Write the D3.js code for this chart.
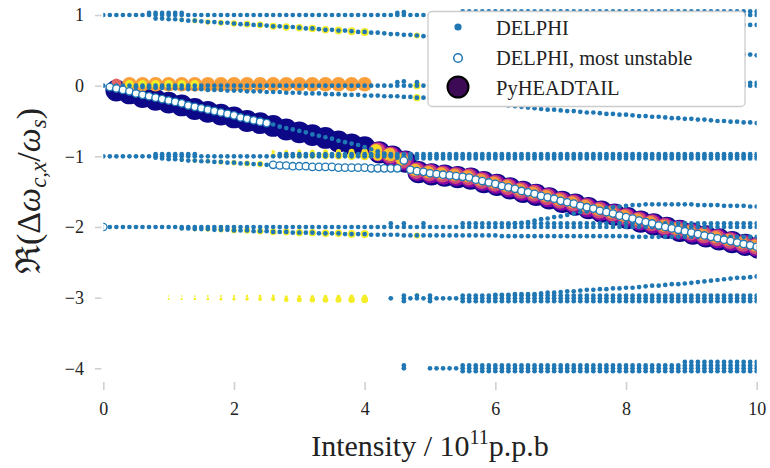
<!DOCTYPE html>
<html><head><meta charset="utf-8">
<script src="https://cdn.jsdelivr.net/npm/d3@7"></script>
<style>body{margin:0;background:#fff} svg{display:block}</style>
</head><body><svg id="c" width="770" height="468"></svg>
<script>
const _ = null;
// ---------- DELPHI intensity grid (1e11 p.p.b) ----------
const intensity = [0,0.1,0.2,0.3,0.4,0.5,0.6,0.7,0.8,0.9,
1,1.1,1.2,1.3,1.4,1.5,1.6,1.7,1.8,1.9,
2,2.1,2.2,2.3,2.4,2.5,2.6,2.7,2.8,2.9,
3,3.1,3.2,3.3,3.4,3.5,3.6,3.7,3.8,3.9,
4,4.1,4.2,4.3,4.4,4.5,4.6,4.7,4.8,4.9,
5,5.1,5.2,5.3,5.4,5.5,5.6,5.7,5.8,5.9,
6,6.1,6.2,6.3,6.4,6.5,6.6,6.7,6.8,6.9,
7,7.1,7.2,7.3,7.4,7.5,7.6,7.7,7.8,7.9,
8,8.1,8.2,8.3,8.4,8.5,8.6,8.7,8.8,8.9,
9,9.1,9.2,9.3,9.4,9.5,9.6,9.7,9.8,9.9,
10];
// ---------- DELPHI mode branches: Re(dw/ws) per intensity ----------
const b1Main = [1,1,1,1,1,1,1,1,1,1, 1,1,1,1,1,1,1,1,1,1, 1,1,1,1,1,1,1,1,1,1, 1,1,1,1,1,1,1,1,1,1, 1,1,1,1,1,1,1,1,1,1,
1,1,1,1,1,1,1,1,1,1, 1,1,1,1,1,1,1,1,1,1, 1,1,1,1,1,1,1,1,1,1, 1,1,1,1,1,1,1,1,1,1, 1,1,1,1,1,1,1,1,1,1, 1];
const b1Upper = [_,_,_,_,_,_,_,1.03,1.03,1.03, 1.03,1.03,1.03,_,_,_,_,_,_,_, _,_,_,_,_,_,_,_,_,_, _,_,_,_,_,_,_,_,_,_,
_,_,_,_,_,1.03,1.04,_,_,_, _,_,_,_,_,1.05,1.05,1.05,1.05,1.05, 1.05,1.05,1.05,1.05,1.05,1.05,1.05,1.05,1.05,1.05,
1.05,1.05,1.05,1.05,1.05,1.05,1.05,1.05,1.05,1.05, 1.05,1.05,1.05,1.05,1.05,1.05,1.05,1.05,1.05,1.05, 1.05,1.05,1.05,1.05,1.05,1.05,1.05,1.05,1.05,1.05, 1.05];
const b1Lower = [_,_,_,_,_,_,_,_,0.95,0.95,
0.94,0.94,0.93,0.92,0.92,0.91,0.9,0.9,0.89,0.89,
0.88,0.87,0.87,0.86,0.86,0.85,0.84,0.84,0.83,0.83,
0.82,0.81,0.81,0.8,0.79,0.79,0.78,0.78,0.77,0.76,
0.76,0.75,0.75,0.74,0.73,0.73,0.72,0.72,0.71,0.7,
0.7,0.69,0.69,0.68,0.68,0.67,0.67,0.66,0.66,0.65,
0.64,0.64,0.63,0.63,0.62,0.62,0.61,0.61,0.6,0.6,
0.59,0.59,0.58,0.58,0.57,0.57,0.56,0.55,0.55,0.54,
0.54,0.53,0.53,0.52,0.52,0.51,0.51,0.5,0.5,0.49,
0.49,0.48,0.48,0.47,0.46,0.46,0.45,0.45,0.44,0.44,
0.43];
const b1Side = [_,_,_,_,_,_,_,_,_,_, _,_,_,_,_,_,_,_,_,_, _,_,_,_,_,_,_,_,_,_, _,_,_,_,_,_,_,_,_,_, _,_,_,_,_,_,_,_,_,_,
_,_,_,_,_,_,_,_,_,_, _,_,_,_,_,_,_,_,_,_, _,_,_,_,_,_,_,_,_,_, _,_,_,_,_,_,_,_,_,_, _,_,_,_,_,0.87,0.87,0.87,0.86,0.86, 0.86];
const b0Main = [_,_,0,0,0,0,0,0,0,0, 0,0,0,0,0,0,0,0,0,0, 0,0,0,0,0,0,0,0,0,0, 0,0,0,0,0,0,0,0,0,0, 0,0,0,0,0,0,0,0,0,0,
0,0,0,0,0,0,0,0,0,0, 0,0,0,0,0,0,0,0,0,0, 0,0,0,0,0,0,0,0,0,0, 0,0,0,0,0,0,0,0,0,0, 0,0,0,0,0,0,0,0,0,0, 0];
const b0Upper = [_,_,_,_,_,_,_,_,_,_, _,_,_,_,_,_,_,_,_,_, _,_,_,_,_,_,_,_,_,_, _,_,_,_,_,_,_,_,_,_,
_,_,_,_,_,0.05,0.06,_,0.05,_, _,_,_,_,_,0.04,0.04,0.04,0.04,0.04, 0.04,0.04,0.04,0.04,0.04,0.04,0.04,0.04,0.04,0.04,
0.04,0.04,0.04,0.04,0.04,0.04,0.04,0.04,0.04,0.04, 0.04,0.04,0.04,0.04,0.04,0.04,0.04,0.04,0.04,0.04, 0.04,0.04,0.04,0.04,0.04,0.04,0.04,0.04,0.04,0.04, 0.04];
const b0Lower = [_,_,_,_,_,-0.02,-0.02,-0.03,-0.03,-0.03,
-0.04,-0.04,-0.04,-0.05,-0.05,-0.05,-0.06,-0.06,-0.06,-0.07,
-0.07,-0.07,-0.08,-0.08,-0.08,-0.09,-0.09,-0.09,-0.1,-0.1,
-0.1,-0.11,-0.11,-0.11,-0.12,-0.12,-0.12,-0.13,-0.13,-0.13,
-0.14,-0.14,-0.14,-0.15,-0.15,-0.15,-0.16,-0.16,-0.17,-0.17,
-0.18,-0.19,-0.2,-0.2,-0.21,-0.22,-0.23,-0.24,-0.25,-0.26,
-0.26,-0.27,-0.28,-0.29,-0.3,-0.31,-0.32,-0.33,-0.34,-0.34,
-0.35,-0.36,-0.36,-0.37,-0.38,-0.38,-0.39,-0.4,-0.4,-0.41,
-0.41,-0.42,-0.43,-0.43,-0.44,-0.44,-0.45,-0.46,-0.46,-0.47,
-0.47,-0.48,-0.48,-0.49,-0.5,-0.5,-0.51,-0.51,-0.52,-0.52,
-0.53];
const bMain = [0,-0.02,-0.04,-0.06,-0.08,-0.11,-0.13,-0.15,-0.17,-0.19,
-0.21,-0.23,-0.25,-0.28,-0.3,-0.32,-0.34,-0.36,-0.38,-0.4,
-0.42,-0.45,-0.47,-0.49,-0.51,-0.53,-0.55,-0.58,-0.6,-0.62,
-0.64,-0.66,-0.69,-0.71,-0.73,-0.75,-0.78,-0.8,-0.82,-0.84,
-0.87,-0.9,-0.93,-0.96,-0.99,-1.02,-1.06,-1.19,-1.21,-1.22,
-1.24,-1.25,-1.26,-1.27,-1.28,-1.29,-1.3,-1.33,-1.35,-1.37,
-1.39,-1.42,-1.44,-1.46,-1.49,-1.51,-1.53,-1.56,-1.58,-1.6,
-1.63,-1.65,-1.67,-1.7,-1.72,-1.74,-1.77,-1.79,-1.81,-1.84,
-1.86,-1.88,-1.91,-1.93,-1.95,-1.98,-2.0,-2.02,-2.04,-2.06,
-2.08,-2.1,-2.12,-2.14,-2.16,-2.18,-2.2,-2.22,-2.24,-2.26,
-2.28];
const mostUnstable = [-2,-0.02,-0.04,-0.06,-0.08,-0.11,-0.13,-0.15,-0.17,-0.19,
-0.21,-0.23,-0.25,-0.28,-0.3,-0.32,-0.34,-0.36,-0.38,-0.4,
-0.42,-0.45,-0.47,-0.49,-0.51,-0.53,-1.12,-1.13,-1.13,-1.14,
-1.14,-1.14,-1.15,-1.15,-1.15,-1.15,-1.16,-1.16,-1.16,-1.16,
-1.16,-1.17,-1.17,-1.17,-1.17,-1.17,-1.06,-1.19,-1.21,-1.22,
-1.24,-1.25,-1.26,-1.27,-1.28,-1.29,-1.3,-1.33,-1.35,-1.37,
-1.39,-1.42,-1.44,-1.46,-1.49,-1.51,-1.53,-1.56,-1.58,-1.6,
-1.63,-1.65,-1.67,-1.7,-1.72,-1.74,-1.77,-1.79,-1.81,-1.84,
-1.86,-1.88,-1.91,-1.93,-1.95,-1.98,-2.0,-2.02,-2.04,-2.06,
-2.08,-2.1,-2.12,-2.14,-2.16,-2.18,-2.2,-2.22,-2.24,-2.26,
-2.28];
const bM1Main = [-1,-1,-1,-1,-1,-1,-1,-1,-1,-1, -1,-1,-1,-1,-1,-1,-1,-1,-1,-1, -1,-1,-1,-1,-1,-1,-1,-1,-1,-1, -1,-1,-1,-1,-1,-1,-1,-1,-1,-1, -1,-1,-1,-1,-1,-1,-1,-1,-1,-1,
-1,-1,-1,-1,-1,-1,-1,-1,-1,-1, -1,-1,-1,-1,-1,-1,-1,-1,-1,-1, -1,-1,-1,-1,-1,-1,-1,-1,-1,-1, -1,-1,-1,-1,-1,-1,-1,-1,-1,-1, -1,-1,-1,-1,-1,-1,-1,-1,-1,-1, -1];
const bM1Upper = [_,_,_,_,_,_,_,_,-0.97,-0.97, -0.97,-0.97,-0.97,-0.97,-0.97,_,_,_,_,_, _,_,_,_,_,_,_,-0.97,-0.97,-0.97,
-0.97,-0.97,-0.97,-0.97,-0.97,-0.97,-0.97,-0.97,-0.97,-0.97, -0.97,-0.97,-0.97,-0.97,-0.97,-0.97,-0.97,-0.97,-0.97,-0.97,
-0.97,-0.97,-0.97,-0.97,-0.97,-0.97,-0.97,-0.97,-0.97,-0.97, -0.97,-0.97,-0.97,-0.97,-0.97,-0.97,-0.97,-0.97,-0.97,-0.97,
-0.97,-0.97,-0.97,-0.97,-0.97,-0.97,-0.97,-0.97,-0.97,-0.97, -0.97,-0.97,-0.97,-0.97,-0.97,-0.97,-0.97,-0.97,-0.97,-0.97,
-0.97,-0.97,-0.97,-0.97,-0.97,-0.97,-0.97,-0.97,-0.97,-0.97, -0.97];
const bM1Low2 = [_,_,_,_,_,_,_,_,_,_, _,_,_,_,_,_,_,_,_,_, _,_,_,_,_,_,_,_,_,_, _,_,_,_,_,_,_,_,_,_,
_,_,_,_,_,_,_,-1.03,-1.03,-1.03, -1.03,-1.03,-1.03,-1.03,-1.03,-1.03,-1.03,-1.03,-1.03,-1.03,
-1.03,-1.03,-1.03,-1.03,-1.03,-1.03,-1.03,-1.03,-1.03,-1.03, -1.03,-1.03,-1.03,-1.03,-1.03,-1.03,-1.03,-1.03,-1.03,-1.03,
-1.03,-1.03,-1.03,-1.03,-1.03,-1.03,-1.03,-1.03,-1.03,-1.03, -1.03,-1.03,-1.03,-1.03,-1.03,-1.03,-1.03,-1.03,-1.03,-1.03, -1.03];
const bM1Lower = [_,_,_,_,_,_,_,_,-1.02,-1.03,
-1.04,-1.04,-1.05,-1.06,-1.06,-1.07,-1.07,-1.08,-1.08,-1.09,
-1.09,-1.1,-1.1,-1.11,-1.11,-1.12,-1.12,-1.13,-1.13,-1.14,
-1.14,-1.14,-1.15,-1.15,-1.15,-1.15,-1.16,-1.16,-1.16,-1.16,
-1.16,-1.17,-1.17,-1.17,-1.17,-1.17,_,_,_,_,
_,_,_,_,_,_,_,_,_,_, _,_,_,_,_,_,_,_,_,_, _,_,_,_,_,_,_,_,_,_, _,_,_,_,_,_,_,_,_,_, _,_,_,_,_,_,_,_,_,_, _];
const bRise = [_,_,_,_,_,_,_,_,_,_, _,_,_,_,_,_,_,_,_,_, _,_,_,_,_,_,_,_,_,_, _,_,_,_,_,_,_,_,_,_, _,_,_,_,_,_,_,_,_,_,
_,_,_,_,_,_,_,_,_,_,
_,_,-1.96,-1.95,-1.94,-1.93,-1.91,-1.89,-1.88,-1.86,
-1.85,-1.83,-1.81,-1.79,-1.78,-1.76,-1.75,-1.73,-1.72,-1.71,
-1.7,-1.69,-1.69,-1.68,-1.68,-1.68,-1.68,-1.68,-1.68,-1.68,
-1.68,-1.69,-1.69,-1.69,-1.69,-1.7,-1.7,-1.7,-1.7,-1.71,
-1.71];
const bM2Main = [-2,-2,-2,-2,-2,-2,-2,-2,-2,-2, -2,-2,-2,-2,-2,-2,-2,-2,-2,-2, -2,-2,-2,-2,-2,-2,-2,-2,-2,-2, -2,-2,-2,-2,-2,-2,-2,-2,-2,-2, -2,-2,-2,-2,-2,-2,-2,-2,-2,-2,
-2,-2,-2,-2,-2,-2,-2,-2,-2,-2, -2,-2,-2,-2,-2,-2,-2,-2,-2,-2, -2,-2,-2,-2,-2,-2,-2,-2,-2,-2, -2,-2,-2,-2,-2,-2,-2,-2,-2,-2, -2,-2,-2,-2,-2,-2,-2,-2,-2,-2, -2];
const bM2Upper = [_,_,_,_,_,_,_,_,_,_, _,_,_,_,_,_,_,_,_,_, _,_,_,_,_,_,_,_,_,_, _,_,_,_,_,_,_,_,_,_,
_,_,_,_,-1.95,_,-1.95,_,_,-1.95, _,_,_,_,_,-1.95,-1.95,-1.95,-1.95,-1.95,
-1.95,-1.95,-1.95,-1.95,-1.95,-1.95,-1.95,-1.95,-1.95,-1.95, -1.95,-1.95,-1.95,-1.95,-1.95,-1.95,-1.95,-1.95,-1.95,-1.95,
-1.95,-1.95,-1.95,-1.95,-1.95,-1.95,-1.95,-1.95,-1.95,-1.95, -1.95,-1.95,-1.95,-1.95,-1.95,-1.95,-1.95,-1.95,-1.95,-1.95, -1.95];
const bM2Lower = [_,_,_,_,_,_,_,_,_,_,
_,_,-2.02,-2.02,-2.03,-2.03,-2.03,-2.04,-2.04,-2.04,
-2.05,-2.05,-2.05,-2.06,-2.06,-2.06,-2.07,-2.07,-2.07,-2.08,
-2.08,-2.08,-2.08,-2.09,-2.09,-2.09,-2.09,-2.1,-2.1,-2.1,
-2.1,-2.11,-2.11,-2.11,-2.11,-2.11,-2.12,-2.12,-2.12,-2.12,
-2.12,-2.12,-2.12,-2.12,-2.12,-2.12,-2.12,-2.12,-2.12,-2.12,
-2.12,-2.13,-2.13,-2.13,-2.13,-2.13,-2.13,-2.13,-2.13,-2.13,
-2.13,-2.13,-2.13,-2.13,-2.13,-2.13,-2.13,-2.13,-2.13,-2.13,
-2.13,-2.14,-2.14,-2.14,-2.14,-2.14,-2.14,-2.14,-2.14,-2.14,
-2.14,-2.14,-2.14,-2.14,-2.14,-2.14,-2.14,-2.14,-2.14,-2.14,
-2.14];
const bM3Main = [_,_,_,_,_,_,_,_,_,_, _,_,_,_,_,_,_,_,_,_, _,_,_,_,_,_,_,_,_,_, _,_,_,_,_,_,_,_,_,_,
_,_,_,_,-3.01,_,-3.01,-3.01,-3.01,-3.01,
-3.01,-3.01,-3.01,-3.01,-3.01,-3.01,-3.01,-3.01,-3.01,-3.01, -3.01,-3.01,-3.01,-3.01,-3.01,-3.01,-3.01,-3.01,-3.01,-3.01,
-3.01,-3.01,-3.01,-3.01,-3.01,-3.01,-3.01,-3.01,-3.01,-3.01, -3.01,-3.01,-3.01,-3.01,-3.01,-3.01,-3.01,-3.01,-3.01,-3.01,
-3.01,-3.01,-3.01,-3.01,-3.01,-3.01,-3.01,-3.01,-3.01,-3.01, -3.01];
const bM3Upper = [_,_,_,_,_,_,_,_,_,_, _,_,_,_,_,_,_,_,_,_, _,_,_,_,_,_,_,_,_,_, _,_,_,_,_,_,_,_,_,_,
_,_,_,_,_,_,-2.97,_,-2.97,_, -2.97,_,_,_,_,-2.97,-2.97,-2.97,-2.97,-2.97,
-2.97,-2.97,-2.97,-2.97,-2.97,-2.97,-2.97,-2.97,-2.97,-2.97, -2.97,-2.97,-2.97,-2.97,-2.97,-2.97,-2.97,-2.97,-2.97,-2.97,
-2.97,-2.97,-2.97,-2.97,-2.97,-2.97,-2.97,-2.97,-2.97,-2.97, -2.97,-2.97,-2.97,-2.97,-2.97,-2.97,-2.97,-2.97,-2.97,-2.97, -2.97];
const bM3Low2 = [_,_,_,_,_,_,_,_,_,_, _,_,_,_,_,_,_,_,_,_, _,_,_,_,_,_,_,_,_,_, _,_,_,_,_,_,_,_,_,_,
_,_,_,_,_,_,-3.05,_,_,_, -3.05,_,_,_,_,-3.05,-3.05,-3.05,-3.05,-3.05,
-3.05,-3.05,-3.05,-3.05,-3.05,-3.05,-3.05,-3.05,-3.05,-3.05, -3.05,-3.05,-3.05,-3.05,-3.05,-3.05,-3.05,-3.05,-3.05,-3.05,
-3.05,-3.05,-3.05,-3.05,-3.05,-3.05,-3.05,-3.05,-3.05,-3.05, -3.05,-3.05,-3.05,-3.05,-3.05,-3.05,-3.05,-3.05,-3.05,-3.05, -3.05];
const bM3Rise = [_,_,_,_,_,_,_,_,_,_, _,_,_,_,_,_,_,_,_,_, _,_,_,_,_,_,_,_,_,_, _,_,_,_,_,_,_,_,_,_, _,_,_,_,_,_,_,_,_,_,
_,_,_,_,_,_,_,_,_,_,
-2.96,-2.96,-2.96,-2.95,-2.95,-2.95,-2.95,-2.94,-2.93,-2.93,
-2.92,-2.91,-2.91,-2.9,-2.89,-2.89,-2.88,-2.88,-2.87,-2.87,
-2.86,-2.86,-2.85,-2.84,-2.83,-2.83,-2.82,-2.81,-2.81,-2.8,
-2.79,-2.78,-2.77,-2.76,-2.75,-2.74,-2.73,-2.72,-2.72,-2.71,
-2.7];
const bM4Main = [_,_,_,_,_,_,_,_,_,_, _,_,_,_,_,_,_,_,_,_, _,_,_,_,_,_,_,_,_,_, _,_,_,_,_,_,_,_,_,_,
_,_,_,_,_,_,-4,_,_,_, -4,-4,-4,-4,-4,-4,-4,-4,-4,-4, -4,-4,-4,-4,-4,-4,-4,-4,-4,-4, -4,-4,-4,-4,-4,-4,-4,-4,-4,-4,
-4,-4,-4,-4,-4,-4,-4,-4,-4,-4, -4,-4,-4,-4,-4,-4,-4,-4,-4,-4, -4];
const bM4Upper = [_,_,_,_,_,_,_,_,_,_, _,_,_,_,_,_,_,_,_,_, _,_,_,_,_,_,_,_,_,_, _,_,_,_,_,_,_,_,_,_,
_,_,_,_,_,_,-3.96,_,_,_, _,_,_,_,_,-3.96,-3.96,-3.96,-3.96,-3.96,
-3.96,-3.96,-3.96,-3.96,-3.96,-3.96,-3.96,-3.96,-3.96,-3.96, -3.96,-3.96,-3.96,-3.96,-3.96,-3.96,-3.96,-3.96,-3.96,-3.96,
-3.96,-3.96,-3.96,-3.96,-3.96,-3.96,-3.96,-3.96,-3.96,-3.96, -3.96,-3.96,-3.96,-3.96,-3.96,-3.96,-3.96,-3.96,-3.96,-3.96, -3.96];
const bM4Low2 = [_,_,_,_,_,_,_,_,_,_, _,_,_,_,_,_,_,_,_,_, _,_,_,_,_,_,_,_,_,_, _,_,_,_,_,_,_,_,_,_,
_,_,_,_,_,_,_,_,_,_, _,_,_,_,_,-4.04,-4.04,-4.04,-4.04,-4.04,
-4.04,-4.04,-4.04,-4.04,-4.04,-4.04,-4.04,-4.04,-4.04,-4.04, -4.04,-4.04,-4.04,-4.04,-4.04,-4.04,-4.04,-4.04,-4.04,-4.04,
-4.04,-4.04,-4.04,-4.04,-4.04,-4.04,-4.04,-4.04,-4.04,-4.04, -4.04,-4.04,-4.04,-4.04,-4.04,-4.04,-4.04,-4.04,-4.04,-4.04, -4.04];
const bM4Top = [_,_,_,_,_,_,_,_,_,_, _,_,_,_,_,_,_,_,_,_, _,_,_,_,_,_,_,_,_,_, _,_,_,_,_,_,_,_,_,_, _,_,_,_,_,_,_,_,_,_,
_,_,_,_,_,_,_,_,_,_, _,_,_,_,_,_,_,_,_,_, _,_,_,_,_,_,_,_,_,_, _,_,_,_,_,_,_,_,_,-3.91,
-3.91,-3.91,-3.91,-3.91,-3.91,-3.91,-3.91,-3.91,-3.91,-3.91, -3.91];

// ---------- PyHEADTAIL spectral peaks: position, amplitude, colour level ----------
const pyhtMainX = [0.2,0.4,0.6,0.8,1.0,1.2,1.4,1.6,1.8,2.0,2.2,2.4,2.6,2.8,3.0,3.2,3.4,3.6,3.8,4.0];
const pyhtMainY = [-0.07,-0.11,-0.16,-0.2,-0.24,-0.28,-0.33,-0.37,-0.41,-0.45,-0.5,-0.53,-0.57,-0.62,-0.66,-0.7,-0.74,-0.79,-0.83,-0.87];
const pyhtFirstX = [0.2], pyhtFirstY = [0.03];
const pyhtZeroX = [0.4,0.6,0.8,1.0,1.2,1.4,1.6,1.8,2.0,2.2,2.4,2.6,2.8,3.0,3.2,3.4,3.6,3.8,4.0];
const pyhtZeroY = [0.02,0.02,0.02,0.02,0.02,0.02,0.02,0.02,0.02,0.02,0.02,0.02,0.02,0.02,0.02,0.02,0.02,0.02,0.02];
const pyhtZeroInX = [0.4,0.6,0.8,1.0,1.2,1.4];
const pyhtZeroInY = [0.02,0.02,0.02,0.02,0.02,0.02];
const pyhtCoupledX = [4.2,4.4,4.6,4.8,5.0,5.2,5.4,5.6,5.8,6.0,6.2,6.4,6.6,6.8,7.0,7.2,7.4,7.6,7.8,8.0,8.2,8.4,8.6,8.8,9.0,9.2,9.4,9.6,9.8,10.0];
const pyhtCoupledY = [-0.93,-0.99,-1.06,-1.21,-1.24,-1.26,-1.28,-1.3,-1.35,-1.39,-1.44,-1.49,-1.53,-1.58,-1.63,-1.67,-1.72,-1.77,-1.81,-1.86,-1.91,-1.95,-2.0,-2.04,-2.08,-2.12,-2.16,-2.2,-2.24,-2.28];
const pyhtCoupledTop = [0.93,0.9,0.88,0.85,0.82,0.8,0.78,0.78,0.76,0.76,0.76,0.76,0.76,0.76,0.76,0.76,0.76,0.76,0.76,0.76,0.76,0.76,0.76,0.76,0.76,0.76,0.76,0.76,0.76,0.76];
const coupledLayerAmp = [1.12,0.86,0.62,0.34];
const coupledLayerLevel = [0.0,0.27,0.52];
const pyhtP1X = [1.0,1.2,1.4,1.6,1.8,2.0,2.2,2.4,2.6,2.8,3.0,3.2,3.4,3.6,3.8,4.0,4.8];
const pyhtP1Y = [0.94,0.93,0.92,0.9,0.89,0.88,0.87,0.86,0.84,0.83,0.82,0.81,0.79,0.78,0.77,0.76,0.71];
const pyhtP1A = [0.04,0.05,0.06,0.07,0.08,0.09,0.1,0.1,0.11,0.12,0.12,0.13,0.13,0.14,0.14,0.15,0.08];
const pyhtM1X = [1.2,1.4,1.6,1.8,2.0,2.2,2.4];
const pyhtM1Y = [-1.05,-1.06,-1.07,-1.08,-1.09,-1.1,-1.11];
const pyhtM1A = [0.04,0.05,0.05,0.06,0.07,0.08,0.09];
const pyhtM1bX = [2.6,2.8,3.0,3.2,3.4,3.6,3.8,4.0,4.2,4.4];
const pyhtM1bY = [-0.99,-0.99,-0.99,-0.99,-0.99,-0.99,-0.99,-0.99,-0.99,-0.99];
const pyhtM1bA = [0.06,0.07,0.08,0.1,0.12,0.14,0.17,0.2,0.24,0.28];
const pyhtM1bC = [0.97,0.97,0.97,0.97,0.97,0.96,0.95,0.93,0.9,0.85];
const pyhtM2X = [1.2,1.4,1.6,1.8,2.0,2.2,2.4,2.6,2.8,3.0,3.2,3.4,3.6,3.8,4.0,4.8];
const pyhtM2Y = [-2.02,-2.03,-2.03,-2.04,-2.05,-2.05,-2.06,-2.07,-2.07,-2.08,-2.08,-2.09,-2.09,-2.1,-2.1,-2.12];
const pyhtM2A = [0.04,0.05,0.06,0.07,0.08,0.09,0.1,0.1,0.11,0.12,0.12,0.13,0.13,0.14,0.15,0.08];
const pyhtM3X = [1.0,1.2,1.4,1.6,1.8,2.0,2.2,2.4,2.6,2.8,3.0,3.2,3.4,3.6,3.8,4.0,4.8];
const pyhtM3Y = [-3.02,-3.02,-3.02,-3.02,-3.02,-3.02,-3.02,-3.02,-3.02,-3.03,-3.03,-3.03,-3.03,-3.03,-3.03,-3.03,-2.99];
const pyhtM3A = [0.01,0.012,0.015,0.018,0.022,0.026,0.03,0.036,0.042,0.05,0.058,0.066,0.075,0.085,0.095,0.11,0.03];
const pyhtZ48X = [4.8,4.8];
const pyhtZ48Y = [0.0,-0.17];
const pyhtZ48A = [0.12,0.12];

// ---------- tick labels ----------
const xTicks = [0,2,4,6,8,10];
const yTicks = [1,0,-1,-2,-3,-4];

// ================= drawing =================
const svg = d3.select("#c");
const x = d3.scaleLinear().domain([0,10]).range([103.3,756.7]);
const y = d3.scaleLinear().domain([1,-4]).range([15,368.3]);
const rScale = d3.scaleSqrt().domain([0,1]).range([0,10.5]);
const plasma = d3.interpolatePlasma;
const BLUE = "#1f77b4";
const SERIF = "'Liberation Serif','DejaVu Serif',serif";

svg.append("defs").append("clipPath").attr("id","clip").append("rect")
  .attr("x",x(0)).attr("y",0).attr("width",x(10)-x(0)).attr("height",382);
const plot = svg.append("g").attr("clip-path","url(#clip)");

function pyht(xs, ys, amps, level, dx, dy){
  dx = dx||0; dy = dy||0;
  plot.append("g").selectAll("circle")
    .data(xs.map((t,i)=>({t, v: ys[i], a: Array.isArray(amps)?amps[i]:amps, c: Array.isArray(level)?level[i]:level})))
    .join("circle")
    .attr("cx", d=>x(d.t)+dx).attr("cy", d=>y(d.v)+dy)
    .attr("r", d=>rScale(d.a)).attr("fill", d=>plasma(d.c));
}
// PyHEADTAIL (drawn beneath DELPHI)
pyht(pyhtMainX, pyhtMainY, 1.08, 0.0);
pyht(pyhtFirstX, pyhtFirstY, 0.24, 0.6);
pyht(pyhtZeroX, pyhtZeroY, 0.48, 0.78);
pyht(pyhtZeroInX, pyhtZeroInY, 0.17, 0.97);
pyht(pyhtCoupledX, pyhtCoupledY, coupledLayerAmp[0], coupledLayerLevel[0], 1.6, 1.0);
pyht(pyhtCoupledX, pyhtCoupledY, coupledLayerAmp[1], coupledLayerLevel[1], 0.5, 0.3);
pyht(pyhtCoupledX, pyhtCoupledY, coupledLayerAmp[2], coupledLayerLevel[2], -0.6, -0.4);
pyht(pyhtCoupledX, pyhtCoupledY, coupledLayerAmp[3], pyhtCoupledTop, -1.8, -1.2);
pyht(pyhtP1X, pyhtP1Y, pyhtP1A, 0.97);
pyht(pyhtM1X, pyhtM1Y, pyhtM1A, 0.97);
pyht(pyhtM1bX, pyhtM1bY, pyhtM1bA, pyhtM1bC);
pyht(pyhtM1bX, pyhtM1bY, pyhtM1bA.map(a=>a*0.45), pyhtM1bC, 0, -4);
pyht(pyhtM2X, pyhtM2Y, pyhtM2A, 0.97);
pyht(pyhtM3X, pyhtM3Y, pyhtM3A, 0.97);
pyht(pyhtM3X, pyhtM3Y, pyhtM3A.map(a=>a*0.45), 0.97, 0, -3);
pyht(pyhtZ48X, pyhtZ48Y, pyhtZ48A, 0.97);

// DELPHI modes
const branches = [b1Main,b1Upper,b1Lower,b1Side,b0Main,b0Upper,b0Lower,bMain,bM1Main,bM1Upper,bM1Low2,bM1Lower,bRise,
  bM2Main,bM2Upper,bM2Lower,bM3Main,bM3Upper,bM3Low2,bM3Rise,bM4Main,bM4Upper,bM4Low2,bM4Top];
const delphiPts = [];
branches.forEach(b => intensity.forEach((t,i) => { if (b[i] != null) delphiPts.push([t, b[i]]); }));
plot.append("g").selectAll("circle").data(delphiPts).join("circle")
  .attr("cx", d=>x(d[0])).attr("cy", d=>y(d[1])).attr("r", 2.35).attr("fill", BLUE);

// DELPHI most unstable
const muPts = intensity.map((t,i)=>[t, mostUnstable[i]]);
plot.append("g").selectAll("circle").data(muPts).join("circle")
  .attr("cx", d=>x(d[0])).attr("cy", d=>y(d[1])).attr("r", 3.7)
  .attr("fill", "#fff").attr("stroke", BLUE).attr("stroke-width", 1.3);

// axes
const yAxis = svg.append("g").attr("transform","translate(101.5,0)")
  .call(d3.axisLeft(y).tickValues(yTicks).tickSize(6.5).tickPadding(11)
    .tickFormat(d => d < 0 ? "\u2212" + Math.abs(d) : String(d)));
const xAxis = svg.append("g").attr("transform","translate(0,382)")
  .call(d3.axisBottom(x).tickValues(xTicks).tickSize(8).tickPadding(12.5));
[yAxis, xAxis].forEach(a => {
  a.attr("font-family", null).attr("font-size", null);
  a.select(".domain").remove();
  a.selectAll(".tick line").attr("stroke","#d0d0d0").attr("stroke-width",1.6);
  a.selectAll(".tick text").attr("fill","#222").attr("font-family","Liberation Serif").style("font-family",SERIF).style("font-size","18px");
});

// axis labels
const xl = svg.append("text").attr("x",430).attr("y",456).attr("text-anchor","middle")
  .attr("fill","#222").style("font-family",SERIF).style("font-size","30px");
xl.append("tspan").text("Intensity / 10");
xl.append("tspan").attr("dy",-12).style("font-size","20px").text("11");
xl.append("tspan").attr("dy",12).text("p.p.b");

const yl = svg.append("text").attr("transform","translate(40,191) rotate(-90)").attr("text-anchor","middle")
  .attr("fill","#222").style("font-family",SERIF).style("font-size","34px");
yl.append("tspan").text("\u211C(\u0394");
yl.append("tspan").style("font-style","italic").text("\u03C9");
yl.append("tspan").style("font-style","italic").style("font-size","23px").attr("dy",6).text("c,x");
yl.append("tspan").attr("dy",-6).text("/");
yl.append("tspan").style("font-style","italic").text("\u03C9");
yl.append("tspan").style("font-style","italic").style("font-size","23px").attr("dy",6).text("s");
yl.append("tspan").attr("dy",-6).text(")");

// legend
const lg = svg.append("g");
lg.append("rect").attr("x",428).attr("y",11.5).attr("width",317).attr("height",95).attr("rx",4)
  .attr("fill","#fff").attr("stroke","#cccccc").attr("stroke-width",1.3);
lg.append("circle").attr("cx",458).attr("cy",27).attr("r",3.6).attr("fill",BLUE);
lg.append("circle").attr("cx",458).attr("cy",58).attr("r",4.3).attr("fill","#fff").attr("stroke",BLUE).attr("stroke-width",1.5);
lg.append("circle").attr("cx",458).attr("cy",87).attr("r",10.5).attr("fill","#3d0a55").attr("stroke","#000").attr("stroke-width",2);
const legText = ["DELPHI","DELPHI, most unstable","PyHEADTAIL"];
lg.selectAll("text.lt").data(legText).join("text").attr("class","lt")
  .attr("x",496).attr("y",(d,i)=>35+i*30).attr("fill","#222")
  .style("font-family",SERIF).style("font-size","20.5px").text(d=>d);
</script></body></html>
